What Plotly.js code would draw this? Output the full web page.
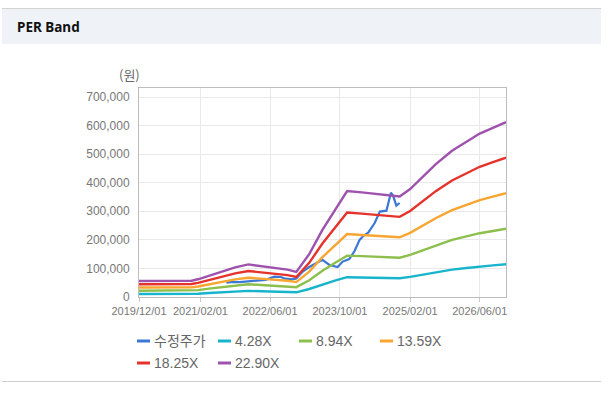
<!DOCTYPE html>
<html>
<head>
<meta charset="utf-8">
<script src="https://cdn.plot.ly/plotly-3.0.1.min.js"></script>
<style>
html,body{margin:0;padding:0;background:#fff;}
#chart{width:608px;height:393px;}
</style>
</head>
<body>
<div id="chart"></div>
<script>
// ---- data ----
const bandDates = ['2019-12-01','2020-04-01','2020-08-01','2020-12-01','2021-01-15','2021-04-01','2021-07-01','2021-10-01','2022-01-01','2022-04-01','2022-07-01','2022-10-01','2022-12-01','2023-03-01','2023-06-01','2023-09-01','2023-11-20','2024-03-01','2024-06-01','2024-09-01','2024-11-20','2025-02-01','2025-05-01','2025-08-01','2025-11-20','2026-03-01','2026-06-01','2026-09-01','2026-12-01'];
const band428 = [10500,10500,10500,10700,11600,14000,16800,19400,21300,20200,19300,17900,16400,28000,43900,57900,69300,68400,67700,66700,65800,70600,78500,87100,95700,101500,106900,110600,114400];
const band894 = [21900,21900,21900,22300,24200,29300,35100,40600,44500,42200,40200,37500,34400,58600,91700,121000,144800,142900,141300,139400,137400,147600,164000,181900,199900,212000,223300,231100,238900];
const band1359 = [33200,33200,33200,33800,36800,44500,53400,61700,67600,64100,61100,57000,52200,89000,139400,184000,220200,217200,214800,211800,208900,224300,249200,276500,303800,322200,339400,351300,363200];
const band1825 = [44600,44600,44600,45400,49400,59800,71700,82900,90900,86100,82100,76500,70100,119500,187300,247000,295700,291700,288500,284500,280500,301200,334700,371400,408000,432700,455800,471800,487700];
const band2290 = [56000,56000,56000,57000,62000,75000,90000,104000,114000,108000,103000,96000,88000,150000,235000,310000,371000,366000,362000,357000,352000,378000,420000,466000,512000,543000,572000,592000,612000];

const priceDates = ['2021-08-01','2021-09-15','2021-11-01','2022-01-01','2022-03-01','2022-05-01','2022-07-01','2022-08-15','2022-09-15','2022-11-01','2022-12-01','2023-01-15','2023-03-01','2023-04-15','2023-06-01','2023-07-20','2023-09-15','2023-10-20','2023-12-05','2024-01-10','2024-02-15','2024-03-15','2024-04-15','2024-05-30','2024-07-05','2024-08-20','2024-09-10','2024-09-20','2024-10-05','2024-10-28','2024-11-20'];
const priceVals = [50000,53000,52000,55000,57000,60000,71000,70000,64000,62000,65000,89000,105000,118000,130000,112000,105000,124000,133000,160000,200000,215000,225000,259000,299000,302000,340000,365000,355000,320000,329000];

const seriesNames = ['수정주가','4.28X','8.94X','13.59X','18.25X','22.90X'];
const seriesColors = ['#3b78d4','#17b4cc','#8cbf4c','#f8a532','#e5322b','#9e52ae'];

const xTickVals = ['2019-12-01','2021-02-01','2022-06-01','2023-10-01','2025-02-01','2026-06-01'];
const xTickText = ['2019/12/01','2021/02/01','2022/06/01','2023/10/01','2025/02/01','2026/06/01'];
const yTickVals = [0,100000,200000,300000,400000,500000,600000,700000];

// ---- chart ----
const bands = [band428, band894, band1359, band1825, band2290];
const traces = [{
  x: priceDates, y: priceVals, type: 'scatter', mode: 'lines',
  name: seriesNames[0], line: {color: seriesColors[0], width: 2.2}
}];
bands.forEach((b, i) => traces.push({
  x: bandDates, y: b, type: 'scatter', mode: 'lines',
  name: seriesNames[i + 1], line: {color: seriesColors[i + 1], width: 2.4}
}));

// plot area in pixels: x 139..506, y 88..297
const L = 139, R = 506, T = 88, B = 297;
const px = v => (v - L) / (R - L);
const py = v => (B - v) / (B - T);

const shapes = [
  {type: 'rect', xref: 'paper', yref: 'paper', x0: px(2), x1: px(601), y0: py(44), y1: py(9),
    fillcolor: '#eff3f8', line: {width: 0}, layer: 'below'},
  {type: 'line', xref: 'paper', yref: 'paper', x0: px(2), x1: px(601), y0: py(8.5), y1: py(8.5),
    line: {color: '#d2d2d2', width: 1}},
  {type: 'line', xref: 'paper', yref: 'paper', x0: px(2), x1: px(601), y0: py(381.5), y1: py(381.5),
    line: {color: '#cfcfcf', width: 1}}
];
const annotations = [
  {xref: 'paper', yref: 'paper', x: px(15), y: py(27), xanchor: 'left', yanchor: 'middle',
    text: '<b>PER Band</b>', showarrow: false,
    font: {family: 'Noto Sans, Liberation Sans, sans-serif', size: 13.5, color: '#111'}},
  {xref: 'paper', yref: 'paper', x: px(129), y: py(74), xanchor: 'center', yanchor: 'middle',
    text: '(원)', showarrow: false,
    font: {family: 'Noto Sans CJK KR, sans-serif', size: 13, color: '#666'}}
];

// legend (two rows, fixed columns)
const legX = [137, 218, 299, 380];
const legY = [341, 363];
seriesNames.forEach((nm, i) => {
  const cx = legX[i % 4], cy = legY[Math.floor(i / 4)];
  shapes.push({type: 'line', xref: 'paper', yref: 'paper', x0: px(cx), x1: px(cx + 13), y0: py(cy), y1: py(cy),
    line: {color: seriesColors[i], width: 3}});
  annotations.push({xref: 'paper', yref: 'paper', x: px(cx + 15), y: py(cy), xanchor: 'left', yanchor: 'middle',
    text: nm, showarrow: false,
    font: {family: 'Liberation Sans, Noto Sans CJK KR, sans-serif', size: 14, color: '#666'}});
});

const layout = {
  width: 608, height: 393,
  margin: {l: L, r: 608 - R, t: T, b: 393 - B, pad: 0},
  paper_bgcolor: '#ffffff', plot_bgcolor: '#ffffff',
  font: {family: 'Liberation Sans, Arial, sans-serif', size: 11, color: '#777'},
  showlegend: false,
  xaxis: {
    type: 'date', range: ['2019-12-01', '2026-12-01'],
    tickvals: xTickVals, ticktext: xTickText,
    showgrid: true, gridcolor: '#e9e9e9', gridwidth: 1,
    showline: true, linecolor: '#bdbdbd', linewidth: 1, mirror: true,
    ticks: 'outside', ticklen: 4, tickcolor: '#c8c8c8',
    tickfont: {size: 11, color: '#777'}, zeroline: false, fixedrange: true
  },
  yaxis: {
    range: [0, 731500], tickvals: yTickVals, tickformat: ',d',
    showgrid: true, gridcolor: '#e9e9e9', gridwidth: 1,
    showline: true, linecolor: '#bdbdbd', linewidth: 1, mirror: true,
    ticks: '', ticklabelstandoff: 6,
    tickfont: {size: 12, color: '#777'}, zeroline: false, fixedrange: true
  },
  shapes: shapes,
  annotations: annotations
};

Plotly.newPlot('chart', traces, layout, {displayModeBar: false, staticPlot: true});
</script>
</body>
</html>
